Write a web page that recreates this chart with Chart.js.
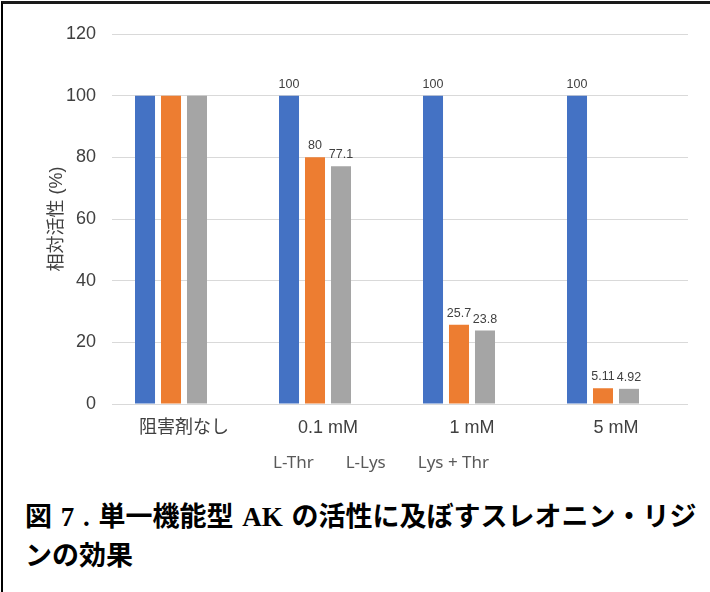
<!DOCTYPE html>
<html>
<head>
<meta charset="utf-8">
<script src="https://cdn.jsdelivr.net/npm/chart.js@4"></script>
<style>
  body { margin: 0; background: #fff; width: 710px; height: 592px; overflow: hidden; position: relative; }
  #frame { position: absolute; left: 1px; top: 1px; width: 720px; height: 600px;
           border-top: 3px solid #1a1a1a; border-left: 2px solid #000; pointer-events: none; }
  #wrap { position: absolute; left: 0; top: 0; width: 710px; height: 485px; }
  #caption { position: absolute; left: 25px; top: 498px; width: 690px;
             font-family: 'Liberation Serif', 'Noto Sans CJK JP', serif; font-weight: bold;
             font-size: 27px; line-height: 39px; color: #000; white-space: nowrap; word-spacing: 2px; }
</style>
</head>
<body>
<div id="wrap"><canvas id="akChart" width="710" height="485"></canvas></div>
<div id="caption">図 7 . 単一機能型 AK の活性に及ぼすスレオニン・リジ<br>ンの効果</div>
<div id="frame"></div>
<script>
// inhibitor conditions and relative activity (%)
const categories = ['阻害剤なし', '0.1 mM', '1 mM', '5 mM'];
const seriesNames = ['L-Thr', 'L-Lys', 'Lys + Thr'];
const thrValues = [100, 100, 100, 100];
const lysValues = [100, 80, 25.7, 5.11];
const lysThrValues = [100, 77.1, 23.8, 4.92];
const showValue = [false, true, true, true];
const yTicks = [0, 20, 40, 60, 80, 100, 120];

const colors = ['#4472C4', '#ED7D31', '#A5A5A5'];
const sansFont = "'Liberation Sans', 'Noto Sans CJK JP', sans-serif";

// bar value labels above each bar
const valueLabels = {
    id: 'valueLabels',
    afterDatasetsDraw(chart) {
        const ctx = chart.ctx;
        ctx.save();
        ctx.font = '12.5px ' + sansFont;
        ctx.fillStyle = '#404040';
        ctx.textAlign = 'center';
        ctx.textBaseline = 'alphabetic';
        chart.data.datasets.forEach((ds, di) => {
            if (di > 2) return;
            chart.getDatasetMeta(di).data.forEach((bar, i) => {
                if (!showValue[i] || ds.data[i] == null) return;
                ctx.fillText(String(ds.data[i]), bar.x, bar.y - 8);
            });
        });
        ctx.restore();
    }
};

// text-only legend row under the category labels
const textLegend = {
    id: 'textLegend',
    afterDraw(chart) {
        const ctx = chart.ctx;
        const area = chart.chartArea;
        ctx.save();
        ctx.font = "17px 'Noto Sans', sans-serif";
        ctx.fillStyle = '#595959';
        ctx.textBaseline = 'middle';
        ctx.textAlign = 'left';
        const gap = 32;
        const widths = seriesNames.map(n => ctx.measureText(n).width);
        const total = widths.reduce((a, b) => a + b, 0) + gap * (seriesNames.length - 1);
        let x = (area.left + area.right) / 2 - 19 - total / 2;
        const y = area.bottom + 59;
        seriesNames.forEach((n, i) => {
            ctx.fillText(n, x, y);
            x += widths[i] + gap;
        });
        ctx.restore();
    }
};

const datasets = [thrValues, lysValues, lysThrValues].map((vals, i) => ({
    label: seriesNames[i],
    data: vals,
    backgroundColor: colors[i],
    borderWidth: 0
}));
// empty fourth slot keeps the groups spaced as in the source sheet
datasets.push({ label: '', data: [null, null, null, null], backgroundColor: 'rgba(0,0,0,0)' });

new Chart(document.getElementById('akChart'), {
    type: 'bar',
    data: { labels: categories, datasets: datasets },
    options: {
        responsive: false,
        animation: false,
        devicePixelRatio: 1,
        datasets: { bar: { categoryPercentage: 0.722, barPercentage: 0.77 } },
        layout: { padding: { left: 42, right: 22, top: 34, bottom: 41 } },
        plugins: {
            legend: { display: false },
            tooltip: { enabled: false }
        },
        scales: {
            x: {
                grid: { display: false, drawTicks: false },
                border: { display: false },
                ticks: { color: '#404040', font: { family: sansFont, size: 18 }, padding: 13, maxRotation: 0 },
                afterFit(scale) { scale.height = 40; }
            },
            y: {
                min: 0,
                max: 120,
                afterBuildTicks(scale) { scale.ticks = yTicks.map(v => ({ value: v })); },
                grid: { color: '#d9d9d9', lineWidth: 1, drawTicks: false },
                border: { display: false },
                ticks: { color: '#404040', font: { family: sansFont, size: 18 }, padding: 16 },
                title: {
                    display: true,
                    text: '相対活性 (%)',
                    color: '#404040',
                    font: { family: sansFont, size: 18 },
                    padding: 4
                },
                afterFit(scale) { scale.width = 70; }
            }
        }
    },
    plugins: [valueLabels, textLegend]
});
</script>
</body>
</html>
